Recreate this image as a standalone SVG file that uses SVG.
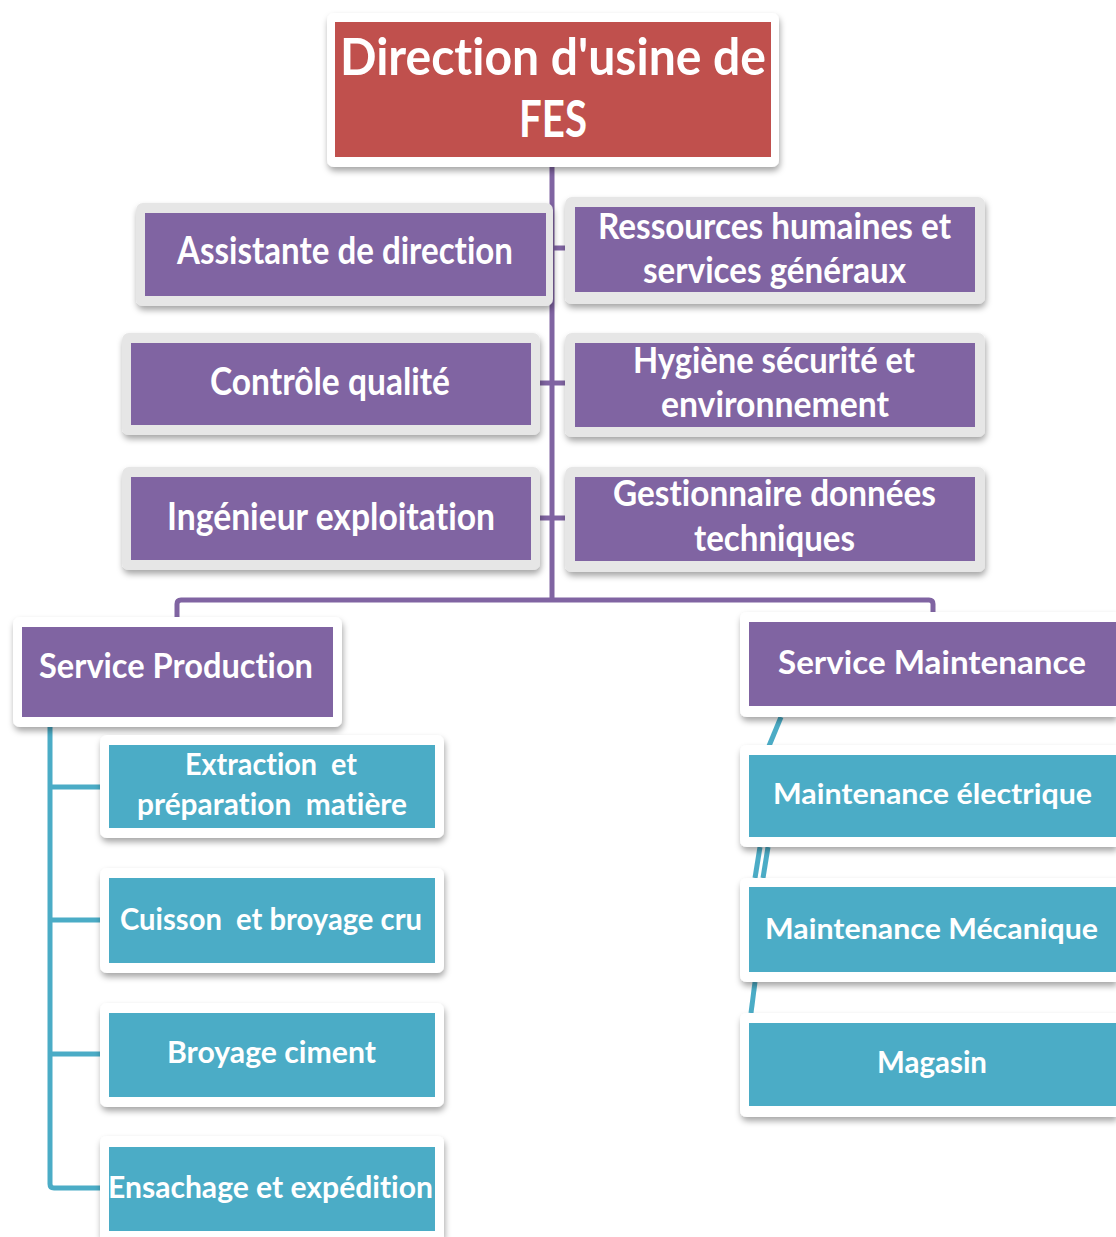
<svg xmlns="http://www.w3.org/2000/svg" width="1116" height="1237" viewBox="0 0 1116 1237">
  <defs>
    <filter id="sh" x="-10%" y="-20%" width="120%" height="150%">
      <feDropShadow dx="1" dy="4" stdDeviation="3" flood-color="#000" flood-opacity="0.35"/>
    </filter>
  </defs>
  <style>
    .fw { fill: #ffffff; filter: url(#sh); }
    .fg { fill: #e6e6e6; filter: url(#sh); }
    .red { fill: #C0504D; }
    .pur { fill: #8064A2; }
    .teal { fill: #4BACC6; }
    .t { fill: #ffffff; font-family: Lato, "Open Sans", "Liberation Sans", sans-serif; font-weight: 700; white-space: pre; font-variant-ligatures: none; }
    .t51 { font-size: 51px; }
    .t38 { font-size: 38px; }
    .t36 { font-size: 36px; }
    .t35 { font-size: 35px; }
    .t32 { font-size: 32px; }
    .t31 { font-size: 31px; }
    .t29 { font-size: 29px; }
    .cp { stroke: #8064A2; stroke-width: 5; fill: none; stroke-linejoin: round; }
    .ct { stroke: #4BACC6; stroke-width: 5; fill: none; stroke-linejoin: round; }
  </style>
  <rect width="1116" height="1237" fill="#ffffff"/>

  <!-- connectors -->
  <g id="connectors">
    <path class="cp" d="M552 167 V600"/>
    <path class="cp" d="M177 617 V604 Q177 600 181 600 H929 Q933 600 933 604 V614"/>
    <path class="cp" d="M553 248 H566"/>
    <path class="cp" d="M540 383 H566"/>
    <path class="cp" d="M540 518 H566"/>
    <path class="ct" d="M50 717 V1184 Q50 1188 54 1188 H101"/>
    <path class="ct" d="M50 787 H101"/>
    <path class="ct" d="M50 920 H101"/>
    <path class="ct" d="M50 1054 H101"/>
    <path class="ct" d="M781 717 L769 746"/>
    <path class="ct" d="M760 847 L755 878"/>
    <path class="ct" d="M768 847 L763 878"/>
    <path class="ct" d="M755 982 L751 1013"/>
  </g>

  <g id="n-direction">
    <rect class="fw" x="327" y="13" width="452" height="154" rx="7"/>
    <rect class="red" x="335" y="22" width="436" height="135"/>
    <text class="t t51"><tspan x="340" y="75" textLength="426" lengthAdjust="spacingAndGlyphs">Direction d'usine de</tspan><tspan x="519" y="137" textLength="68" lengthAdjust="spacingAndGlyphs">FES</tspan></text>
  </g>

  <g id="n-assistante">
    <rect class="fg" x="136" y="203" width="417" height="103" rx="7"/>
    <rect class="pur" x="145" y="213" width="401" height="83"/>
    <text class="t t38" x="177" y="264" textLength="336" lengthAdjust="spacingAndGlyphs">Assistante de direction</text>
  </g>

  <g id="n-rh">
    <rect class="fg" x="565" y="197" width="420" height="107" rx="7"/>
    <rect class="pur" x="575" y="207" width="400" height="85"/>
    <text class="t t36"><tspan x="598" y="239" textLength="353" lengthAdjust="spacingAndGlyphs">Ressources humaines et</tspan><tspan x="643" y="283" textLength="263" lengthAdjust="spacingAndGlyphs">services généraux</tspan></text>
  </g>

  <g id="n-controle">
    <rect class="fg" x="122" y="333" width="418" height="102" rx="7"/>
    <rect class="pur" x="131" y="343" width="400" height="82"/>
    <text class="t t38" x="210" y="395" textLength="240" lengthAdjust="spacingAndGlyphs">Contrôle qualité</text>
  </g>

  <g id="n-hse">
    <rect class="fg" x="565" y="333" width="420" height="104" rx="7"/>
    <rect class="pur" x="575" y="343" width="400" height="84"/>
    <text class="t t36"><tspan x="633" y="373" textLength="282" lengthAdjust="spacingAndGlyphs">Hygiène sécurité et</tspan><tspan x="661" y="417" textLength="228" lengthAdjust="spacingAndGlyphs">environnement</tspan></text>
  </g>

  <g id="n-ingenieur">
    <rect class="fg" x="122" y="467" width="418" height="103" rx="7"/>
    <rect class="pur" x="131" y="477" width="400" height="83"/>
    <text class="t t38" x="167" y="530" textLength="328" lengthAdjust="spacingAndGlyphs">Ingénieur exploitation</text>
  </g>

  <g id="n-gestionnaire">
    <rect class="fg" x="565" y="467" width="420" height="105" rx="7"/>
    <rect class="pur" x="575" y="477" width="400" height="84"/>
    <text class="t t36"><tspan x="613" y="506" textLength="323" lengthAdjust="spacingAndGlyphs">Gestionnaire données</tspan><tspan x="694" y="551" textLength="161" lengthAdjust="spacingAndGlyphs">techniques</tspan></text>
  </g>

  <g id="n-production">
    <rect class="fw" x="13" y="617" width="329" height="110" rx="7"/>
    <rect class="pur" x="22" y="627" width="311" height="90"/>
    <text class="t t35" x="39" y="678" textLength="274" lengthAdjust="spacingAndGlyphs">Service Production</text>
  </g>

  <!-- right-hand column: boxes run on to the page edge -->
  <g id="n-maintenance">
    <path class="fw" d="M747 612 H1116 V717 H747 Q740 717 740 710 V619 Q740 612 747 612 Z"/>
    <rect class="pur" x="749" y="622" width="367" height="84"/>
    <text class="t t32" x="778" y="674" textLength="308" lengthAdjust="spacingAndGlyphs">Service Maintenance</text>
  </g>

  <g id="n-electrique">
    <path class="fw" d="M747 745 H1116 V847 H747 Q740 847 740 840 V752 Q740 745 747 745 Z"/>
    <rect class="teal" x="749" y="755" width="367" height="82"/>
    <text class="t t29" x="773" y="804" textLength="319" lengthAdjust="spacingAndGlyphs">Maintenance électrique</text>
  </g>

  <g id="n-mecanique">
    <path class="fw" d="M747 878 H1116 V982 H747 Q740 982 740 975 V885 Q740 878 747 878 Z"/>
    <rect class="teal" x="749" y="887" width="367" height="85"/>
    <text class="t t29" x="765" y="939" textLength="333" lengthAdjust="spacingAndGlyphs">Maintenance Mécanique</text>
  </g>

  <g id="n-magasin">
    <path class="fw" d="M747 1013 H1116 V1117 H747 Q740 1117 740 1110 V1020 Q740 1013 747 1013 Z"/>
    <rect class="teal" x="749" y="1023" width="367" height="83"/>
    <text class="t t31" x="877" y="1073" textLength="110" lengthAdjust="spacingAndGlyphs">Magasin</text>
  </g>

  <g id="n-extraction">
    <rect class="fw" x="100" y="735" width="344" height="103" rx="7"/>
    <rect class="teal" x="109" y="745" width="326" height="83"/>
    <text class="t t31"><tspan x="185" y="775" textLength="172" lengthAdjust="spacingAndGlyphs">Extraction  et</tspan><tspan x="137" y="815" textLength="270" lengthAdjust="spacingAndGlyphs">préparation  matière</tspan></text>
  </g>

  <g id="n-cuisson">
    <rect class="fw" x="100" y="868" width="344" height="105" rx="7"/>
    <rect class="teal" x="109" y="878" width="326" height="85"/>
    <text class="t t31" x="120" y="930" textLength="302" lengthAdjust="spacingAndGlyphs">Cuisson  et broyage cru</text>
  </g>

  <g id="n-broyage">
    <rect class="fw" x="100" y="1003" width="344" height="104" rx="7"/>
    <rect class="teal" x="109" y="1013" width="326" height="84"/>
    <text class="t t31" x="167" y="1063" textLength="209" lengthAdjust="spacingAndGlyphs">Broyage ciment</text>
  </g>

  <g id="n-ensachage">
    <path class="fw" d="M107 1136 H437 Q444 1136 444 1143 V1237 H100 V1143 Q100 1136 107 1136 Z"/>
    <rect class="teal" x="109" y="1147" width="326" height="84"/>
    <text class="t t31" x="108" y="1198" textLength="325" lengthAdjust="spacingAndGlyphs">Ensachage et expédition</text>
  </g>
</svg>
